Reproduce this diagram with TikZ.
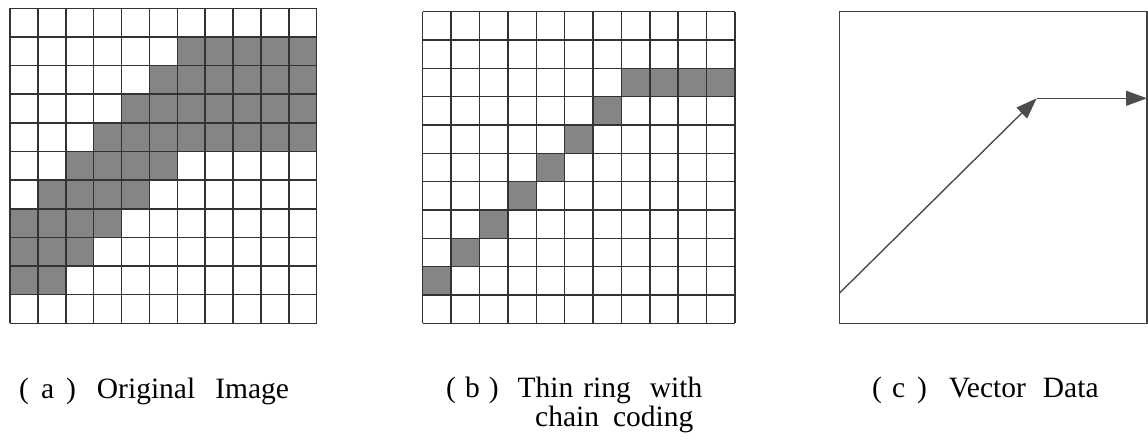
\documentclass[tikz,border=0pt]{standalone}
\usepackage{fontspec}
\setmainfont{Liberation Serif}
\usetikzlibrary{arrows.meta}

\begin{document}
\begin{tikzpicture}[x=1pt, y=-1pt,
  gridline/.style={draw=black!80, line width=1.5pt},
  cellfill/.style={fill=black!48},
  framebox/.style={draw=black!75, line width=1.4pt},
  vecline/.style={draw=black!70, line width=1.4pt,
                  -{Triangle[length=21pt, width=15pt, fill=black!70]}},
  caption/.style={font=\fontsize{29.5}{29}\selectfont,
                  anchor=base west, inner sep=0pt, align=left},
]
\useasboundingbox (0,0) rectangle (1148,443);

% (a) Original image grid
\begin{scope}[shift={(10,8.3)}, x=27.88pt, y=-28.64pt]
  \foreach \r/\a/\b in {1/6/10, 2/5/10, 3/4/10, 4/3/10, 5/2/5, 6/1/4, 7/0/3, 8/0/2, 9/0/1}
    \fill[cellfill] (\a,\r) rectangle (\b+1,\r+1);
  \foreach \i in {0,...,11} {
    \draw[gridline] (\i,0) -- (\i,11);
    \draw[gridline] (0,\i) -- (11,\i);
  }
\end{scope}

% (b) Thin ring grid
\begin{scope}[shift={(422.7,11.7)}, x=28.39pt, y=-28.33pt]
  \foreach \r/\a/\b in {2/7/10, 3/6/6, 4/5/5, 5/4/4, 6/3/3, 7/2/2, 8/1/1, 9/0/0}
    \fill[cellfill] (\a,\r) rectangle (\b+1,\r+1);
  \foreach \i in {0,...,11} {
    \draw[gridline] (\i,0) -- (\i,11);
    \draw[gridline] (0,\i) -- (11,\i);
  }
\end{scope}

% (c) Vector data
\draw[framebox] (839.3,11.7) rectangle (1147,323.3);
\coordinate (vstart) at (839.3,293.3);
\coordinate (vbend) at (1036.7,98.3);
\coordinate (vend) at (1147,98.3);
\draw[vecline] (vstart) -- (vbend);
\draw[vecline] (vbend) -- (vend);

% Captions
\node[caption] (capa) at (19,398)
  {(\hspace{12pt}a\hspace{12pt})\hspace{21pt}Original\hspace{20pt}Image};
\node[caption] (capb) at (446,426)
  {(\hspace{9pt}b\hspace{9pt})\hspace{19pt}Thin\hspace{10pt}ring\hspace{19pt}with\\
   \hspace*{89pt}chain\hspace{14pt}coding};
\node[caption] (capc) at (872,397)
  {(\hspace{10pt}c\hspace{12pt})\hspace{22pt}Vector\hspace{17pt}Data};

\end{tikzpicture}
\end{document}
